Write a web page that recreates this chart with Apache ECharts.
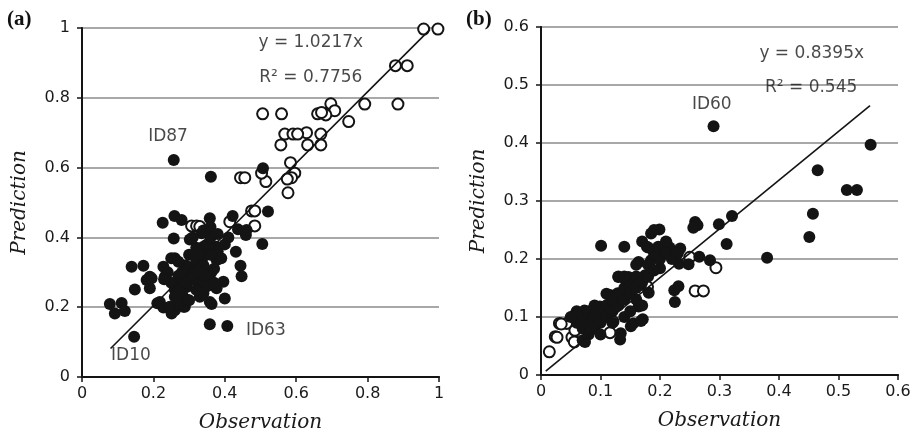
<!DOCTYPE html>
<html>
<head>
<meta charset="utf-8">
<script src="https://cdn.jsdelivr.net/npm/echarts@6/dist/echarts.min.js"></script>
<style>
  html, body { margin: 0; padding: 0; background: #fff; }
  #chart { width: 919px; height: 440px; }
</style>
</head>
<body>
<div id="chart"></div>
<script>
// panel (a): [observation, prediction]
const filledA = [
  [0.257,0.622],[0.361,0.574],[0.507,0.598],[0.521,0.474],[0.505,0.381],[0.422,0.461],
  [0.437,0.423],[0.461,0.421],[0.459,0.407],[0.431,0.359],[0.444,0.319],[0.447,0.289],
  [0.226,0.442],[0.259,0.461],[0.279,0.450],[0.257,0.397],[0.358,0.455],[0.302,0.394],
  [0.139,0.316],[0.172,0.319],[0.190,0.287],[0.181,0.278],[0.190,0.254],[0.148,0.251],
  [0.078,0.209],[0.092,0.182],[0.111,0.212],[0.120,0.189],[0.146,0.115],[0.358,0.151],
  [0.407,0.146],[0.400,0.225],[0.396,0.273],[0.363,0.209],[0.211,0.211],[0.228,0.199],
  [0.251,0.182],[0.260,0.191],[0.288,0.201],[0.293,0.222],[0.228,0.316],[0.335,0.412],
  [0.340,0.373],[0.377,0.373],[0.260,0.340],[0.232,0.287],[0.218,0.215],[0.246,0.201],
  [0.284,0.201],[0.358,0.215],[0.330,0.230],[0.293,0.258],[0.312,0.316],[0.363,0.301],
  [0.377,0.335],[0.340,0.345],[0.284,0.301],[0.265,0.268],[0.377,0.254],[0.195,0.283],
  [0.30,0.30],[0.31,0.28],[0.32,0.33],[0.33,0.35],[0.34,0.32],[0.35,0.38],[0.36,0.40],
  [0.33,0.27],[0.29,0.32],[0.27,0.29],[0.26,0.25],[0.25,0.27],[0.28,0.24],[0.35,0.29],
  [0.37,0.31],[0.38,0.36],[0.34,0.42],[0.36,0.43],[0.32,0.37],[0.30,0.35],[0.31,0.40],
  [0.33,0.30],[0.35,0.26],[0.34,0.24],[0.27,0.21],[0.30,0.22],[0.39,0.34],[0.40,0.38],
  [0.41,0.40],[0.24,0.30],[0.25,0.34],[0.27,0.33],[0.29,0.27],[0.36,0.35],[0.37,0.27],
  [0.38,0.41],[0.32,0.25],[0.26,0.23],[0.23,0.28],[0.28,0.30]
];
const openA = [
  [0.957,0.997],[0.997,0.997],[0.878,0.892],[0.911,0.892],[0.885,0.782],[0.792,0.782],
  [0.747,0.732],[0.697,0.783],[0.708,0.763],[0.676,0.756],[0.660,0.754],[0.683,0.751],
  [0.671,0.758],[0.506,0.754],[0.559,0.754],[0.669,0.696],[0.629,0.700],[0.632,0.665],
  [0.669,0.665],[0.568,0.696],[0.591,0.696],[0.604,0.696],[0.557,0.665],[0.584,0.614],
  [0.596,0.584],[0.587,0.571],[0.575,0.567],[0.577,0.528],[0.515,0.560],[0.503,0.584],
  [0.444,0.571],[0.456,0.571],[0.475,0.476],[0.484,0.476],[0.484,0.433],[0.414,0.445],
  [0.307,0.433],[0.321,0.433],[0.330,0.431]
];
const fitA = { slope: 1.0217, from: 0.08, to: 0.975 };
const notesA = [
  ['y = 1.0217x', 0.641, 0.958],
  ['R² = 0.7756', 0.641, 0.859],
  ['ID87', 0.241, 0.688],
  ['ID63', 0.515, 0.134],
  ['ID10', 0.137, 0.062]
];

// panel (b): [observation, prediction]
const filledB = [
  [0.290,0.429],[0.554,0.397],[0.465,0.353],[0.514,0.319],[0.531,0.319],[0.457,0.278],
  [0.451,0.238],[0.380,0.202],[0.321,0.274],[0.299,0.260],[0.312,0.226],[0.259,0.264],
  [0.263,0.258],[0.256,0.254],[0.266,0.204],[0.284,0.198],[0.248,0.191],[0.234,0.218],
  [0.232,0.192],[0.231,0.153],[0.224,0.146],[0.225,0.126],[0.199,0.251],[0.185,0.244],
  [0.211,0.228],[0.216,0.220],[0.197,0.221],[0.178,0.221],[0.101,0.223],[0.140,0.221],
  [0.164,0.195],[0.185,0.198],[0.200,0.184],[0.181,0.142],[0.171,0.096],[0.155,0.089],
  [0.133,0.061],[0.164,0.118],[0.130,0.169],[0.147,0.169],[0.155,0.152],[0.175,0.172],
  [0.099,0.118],[0.074,0.057],[0.122,0.135],[0.116,0.138],[0.056,0.103],[0.073,0.111],
  [0.095,0.106],[0.112,0.121],[0.129,0.141],[0.140,0.167],[0.168,0.155],[0.168,0.093],
  [0.151,0.084],[0.134,0.072],
  [0.06,0.09],[0.07,0.10],[0.07,0.08],[0.08,0.09],[0.08,0.11],[0.09,0.10],[0.09,0.08],
  [0.10,0.11],[0.10,0.09],[0.11,0.12],[0.11,0.10],[0.12,0.13],[0.12,0.11],[0.13,0.12],
  [0.13,0.14],[0.14,0.15],[0.14,0.13],[0.15,0.16],[0.15,0.14],[0.16,0.17],[0.16,0.15],
  [0.17,0.16],[0.18,0.17],[0.18,0.19],[0.19,0.18],[0.20,0.20],[0.20,0.22],[0.21,0.21],
  [0.22,0.20],[0.06,0.11],[0.05,0.10],[0.08,0.07],[0.07,0.06],[0.10,0.07],[0.12,0.09],
  [0.14,0.10],[0.15,0.11],[0.09,0.12],[0.11,0.14],[0.13,0.17],[0.14,0.17],[0.16,0.13],
  [0.17,0.12],[0.19,0.21],[0.16,0.19],[0.17,0.23],[0.18,0.22],[0.19,0.25],[0.21,0.23],
  [0.23,0.21]
];
const openB = [
  [0.014,0.040],[0.024,0.066],[0.027,0.065],[0.031,0.089],[0.043,0.089],[0.052,0.065],
  [0.056,0.057],[0.057,0.077],[0.259,0.145],[0.273,0.145],[0.294,0.185],[0.250,0.203],
  [0.116,0.073],[0.121,0.092],[0.179,0.152],[0.082,0.079],[0.139,0.135],[0.034,0.088]
];
const fitB = { slope: 0.8395, from: 0.008, to: 0.553 };
const notesB = [
  ['y = 0.8395x', 0.455, 0.555],
  ['R² = 0.545', 0.454, 0.495],
  ['ID60', 0.287, 0.467]
];

const chart = echarts.init(document.getElementById("chart"));

const ink = "#141414";
const tickFont = { fontFamily: "DejaVu Sans", fontSize: 16, color: "#1a1a1a" };
const titleFont = { fontFamily: "DejaVu Serif", fontStyle: "italic", fontSize: 20, color: "#1a1a1a" };

function xAxisFor(idx, max, interval) {
  return {
    gridIndex: idx, type: "value", min: 0, max: max, interval: interval,
    name: "Observation", nameLocation: "middle", nameGap: 36, nameTextStyle: titleFont,
    axisLine: { lineStyle: { color: ink, width: 2 } },
    axisTick: { show: true, length: 5, lineStyle: { color: ink, width: 1.5 } },
    axisLabel: Object.assign({ margin: 9 }, tickFont),
    splitLine: { show: false }
  };
}
function yAxisFor(idx, max, interval) {
  return {
    gridIndex: idx, type: "value", min: 0, max: max, interval: interval,
    name: "Prediction", nameLocation: "middle", nameGap: 52, nameTextStyle: titleFont,
    axisLine: { show: true, lineStyle: { color: ink, width: 2 } },
    axisTick: { show: true, length: 5, lineStyle: { color: ink, width: 1.5 } },
    axisLabel: Object.assign({ margin: 12 }, tickFont),
    splitLine: { show: true, lineStyle: { color: "#a8a8a8", width: 2 } }
  };
}
// top / right frame edges, drawn above the grid lines
function frameX(idx, max) {
  return {
    gridIndex: idx, type: "value", min: 0, max: max, position: "top", z: 5,
    axisLine: { show: true, lineStyle: { color: ink, width: 1.5 } },
    axisTick: { show: false }, axisLabel: { show: false }, splitLine: { show: false }
  };
}
function frameY(idx, max) {
  return {
    gridIndex: idx, type: "value", min: 0, max: max, position: "right", z: 5,
    axisLine: { show: true, lineStyle: { color: ink, width: 1.5 } },
    axisTick: { show: false }, axisLabel: { show: false }, splitLine: { show: false }
  };
}
function filled(idx, data) {
  return {
    type: "scatter", xAxisIndex: idx, yAxisIndex: idx, data: data,
    symbolSize: 12, itemStyle: { color: ink, opacity: 1 }, z: 4
  };
}
function hollow(idx, data) {
  return {
    type: "scatter", xAxisIndex: idx, yAxisIndex: idx, data: data,
    symbolSize: 11, itemStyle: { color: "#fff", borderColor: ink, borderWidth: 2, opacity: 1 }, z: 3
  };
}
function fitLine(idx, fit) {
  return {
    type: "line", xAxisIndex: idx, yAxisIndex: idx, showSymbol: false, silent: true,
    data: [[fit.from, fit.from * fit.slope], [fit.to, fit.to * fit.slope]],
    lineStyle: { color: ink, width: 1.6 }, z: 5
  };
}
function notes(idx, list) {
  return {
    type: "scatter", xAxisIndex: idx, yAxisIndex: idx, symbolSize: 1,
    itemStyle: { color: "transparent" }, z: 6, silent: true,
    data: list.map(n => ({ name: n[0], value: [n[1], n[2]] })),
    label: {
      show: true, position: "inside", formatter: "{b}",
      fontFamily: "DejaVu Sans", fontSize: 17, color: "#1a1a1a"
    }
  };
}

chart.setOption({
  animation: false,
  backgroundColor: "#fff",
  grid: [
    { left: 82, top: 28, width: 357, height: 349 },
    { left: 541, top: 27, width: 357, height: 348 }
  ],
  xAxis: [xAxisFor(0, 1, 0.2), xAxisFor(1, 0.6, 0.1), frameX(0, 1), frameX(1, 0.6)],
  yAxis: [yAxisFor(0, 1, 0.2), yAxisFor(1, 0.6, 0.1), frameY(0, 1), frameY(1, 0.6)],
  graphic: [
    { type: "text", left: 7, top: 9, style: { text: "(a)", font: "bold 21px 'Liberation Serif'", fill: "#111" } },
    { type: "text", left: 466, top: 9, style: { text: "(b)", font: "bold 21px 'Liberation Serif'", fill: "#111" } }
  ],
  series: [
    hollow(0, openA), filled(0, filledA), fitLine(0, fitA), notes(0, notesA),
    hollow(1, openB), filled(1, filledB), fitLine(1, fitB), notes(1, notesB)
  ]
});
</script>
</body>
</html>
